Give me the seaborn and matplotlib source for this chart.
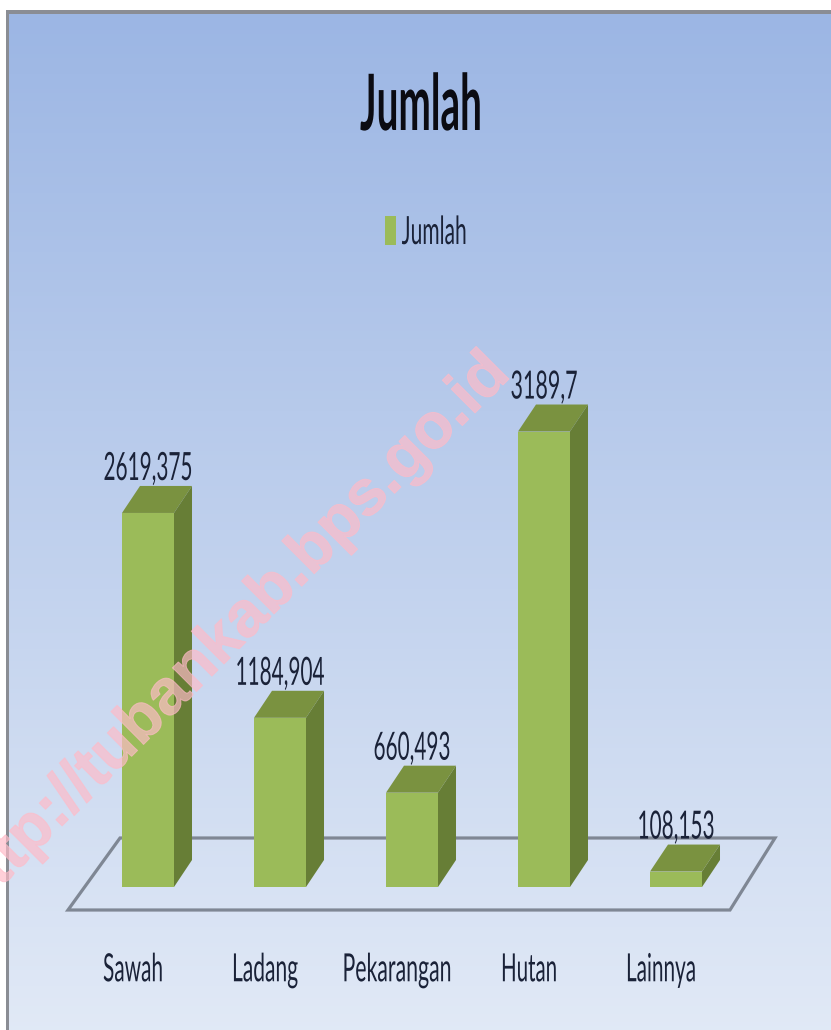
"""
Jumlah per jenis lahan, 3D looking bars on a blue gradient panel
The text in the reference is squeezed sideways, so a small path effect does that here
"""
import numpy as np
import seaborn as sns
import matplotlib.pyplot as plt
from matplotlib.patches import Polygon, Rectangle
from matplotlib.patheffects import AbstractPathEffect, Stroke
from matplotlib.transforms import Affine2D, ScaledTranslation

categories = ["Sawah", "Ladang", "Pekarangan", "Hutan", "Lainnya"]
values = [2619.375, 1184.904, 660.493, 3189.7, 108.153]
value_labels = ["2619,375", "1184,904", "660,493", "3189,7", "108,153"]
series_name = "Jumlah"
watermark = "http://tubankab.bps.go.id"

# widths in the reference, px
category_widths = [60, 66, 109, 56, 70]
value_widths = [89, 89, 77, 67, 77]

W, H = 831, 1030
FONT = "Lato"
TEXT_COL = "#1a2238"
FRONT, TOP, SIDE = "#9bbb59", "#7a9240", "#677e36"


def px(x, y):
    # pixel position in the reference -> figure fraction
    return x / W, 1 - y / H


class Squeeze(AbstractPathEffect):
    def __init__(self, sx, cx):
        super().__init__()
        self.tr = Affine2D().translate(-cx, 0).scale(sx, 1).translate(cx, 0)

    def draw_path(self, renderer, gc, tpath, affine, rgbFace=None):
        renderer.draw_path(gc, tpath, affine + self.tr, rgbFace)


def fit_width(t, target, left=False):
    bb = t.get_window_extent(fig.canvas.get_renderer())
    cx = bb.x0 if left else (bb.x0 + bb.x1) / 2
    t.set_path_effects([Squeeze(target / bb.width, cx)])


sns.set_theme(style="white")
plt.rcParams["font.family"] = [FONT, "DejaVu Sans"]

fig = plt.figure(figsize=(W / 100, H / 100), dpi=100, facecolor="white")

# background panel with the gradient and its grey edge
bg = fig.add_axes([0, 0, 1, 1], zorder=-1)
bg.axis("off")
grad = np.linspace(0, 1, 256).reshape(-1, 1, 1)
c1 = np.array([0.612, 0.714, 0.894]).reshape(1, 1, 3)
c2 = np.array([0.882, 0.914, 0.965]).reshape(1, 1, 3)
bg.imshow(c1 + (c2 - c1) * grad, extent=(8, W, H, 14), aspect="auto", zorder=1)
bg.add_patch(Rectangle((6, 10), W - 6, 4, color="#8a8d94", lw=0, zorder=2))
bg.add_patch(Rectangle((6, 10), 2.5, H - 10, color="#8a8d94", lw=0, zorder=2))
bg.set_xlim(0, W)
bg.set_ylim(H, 0)

# floor plate
bg.add_patch(Polygon([(68, 910), (730, 910), (775, 838), (120, 838)], closed=True,
                     fill=False, ec="#7f8794", lw=2.3, zorder=3))

# main axes: x=-0.5..4.5 is 82..742 px, y=0 sits at 887 px
left, bottom = px(82, 887)
ax = fig.add_axes([left, bottom, 660 / W, 857 / H])
ax.patch.set_alpha(0)
sns.barplot(x=categories, y=values, color=FRONT, saturation=1, width=0.394,
            linewidth=0, label=series_name, ax=ax)
ax.set_xlim(-0.5, 4.5)
ax.set_ylim(0, 857 / 0.1428)

# depth of the fake 3D boxes, in data units
dx = 18 / 132
dy = 27 / 0.1428
value_texts = []
for bar, lab in zip(list(ax.patches), value_labels):
    x0 = bar.get_x()
    x1 = x0 + bar.get_width()
    h = bar.get_height()
    ax.add_patch(Polygon([(x0, h), (x1, h), (x1 + dx, h + dy), (x0 + dx, h + dy)],
                         closed=True, fc=TOP, ec="none", zorder=3))
    ax.add_patch(Polygon([(x1, 0), (x1 + dx, dy), (x1 + dx, h + dy), (x1, h)],
                         closed=True, fc=SIDE, ec="none", zorder=3))
    value_texts.append(ax.annotate(lab, xy=((x0 + x1) / 2, h + dy), xytext=(0, 4.3),
                                   textcoords="offset points", ha="center", va="baseline",
                                   fontsize=28, color=TEXT_COL, zorder=5))

ax.set_yticks([])
ax.set_ylabel("")
ax.tick_params(axis="x", length=0, pad=47, labelsize=28, labelcolor=TEXT_COL)
shift = ScaledTranslation(-15 / 100, 0, fig.dpi_scale_trans)
for t in ax.get_xticklabels():
    t.set_transform(t.get_transform() + shift)
sns.despine(ax=ax, left=True, bottom=True, top=True, right=True)

leg = ax.legend(loc="upper left", bbox_to_anchor=px(385, 215), bbox_transform=fig.transFigure,
                frameon=False, fontsize=28, handlelength=0.28, handleheight=0.77,
                handletextpad=0.15, borderpad=0, borderaxespad=0, labelcolor=TEXT_COL)

title = fig.text(*px(421, 130), "Jumlah", ha="center", va="baseline", fontsize=56,
                 fontweight="bold", color="#0b0b12")

# watermark, runs off the left edge
fig.text(*px(512, 376), watermark, ha="right", va="baseline", rotation=45, rotation_mode="anchor",
         fontsize=46, fontweight="bold", family=["Liberation Sans"], color="#ffbbc8", alpha=0.68,
         zorder=10, path_effects=[Stroke(linewidth=0.7, foreground="#ffbbc8")])

# squeeze the text now that everything has its place
fig.canvas.draw()
for t, w in zip(value_texts, value_widths):
    fit_width(t, w)
for t, w in zip(ax.get_xticklabels(), category_widths):
    fit_width(t, w)
fit_width(title, 122)
fit_width(leg.get_texts()[0], 65, left=True)

fig.savefig("out.png", dpi=100)
